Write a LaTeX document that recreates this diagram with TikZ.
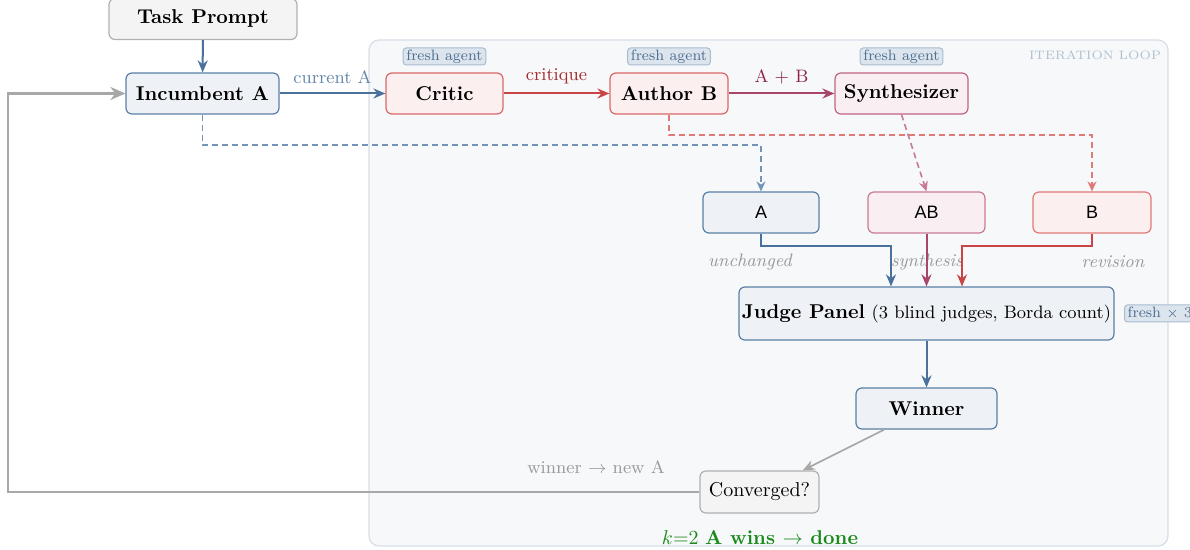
\documentclass[tikz,border=0pt]{standalone}
\usepackage{fontspec}
\newfontfamily\boxsans{Liberation Sans}
\definecolor{incstroke}{HTML}{5A7FA6}
\definecolor{incfill}{HTML}{EEF2F6}
\definecolor{flowblue}{HTML}{4A719C}
\definecolor{dashblue}{HTML}{7393B8}
\definecolor{critstroke}{HTML}{DA6868}
\definecolor{critfill}{HTML}{FBEFEF}
\definecolor{flowred}{HTML}{C94444}
\definecolor{dashred}{HTML}{E07A78}
\definecolor{labelred}{HTML}{A62A2A}
\definecolor{synthstroke}{HTML}{BF6483}
\definecolor{synthfill}{HTML}{F9EEF2}
\definecolor{flowcrimson}{HTML}{A8456A}
\definecolor{dashcrimson}{HTML}{C97A95}
\definecolor{labelcrimson}{HTML}{8E2249}
\definecolor{neutralstroke}{HTML}{B0B0B0}
\definecolor{neutralfill}{HTML}{F4F4F4}
\definecolor{neutralline}{HTML}{A8A8A8}
\definecolor{neutraltext}{HTML}{999999}
\definecolor{tagstroke}{HTML}{A8BCD0}
\definecolor{tagfill}{HTML}{DCE5EE}
\definecolor{tagtext}{HTML}{4F6F90}
\definecolor{loopstroke}{HTML}{D6DEE8}
\definecolor{loopfill}{HTML}{F7F8FA}
\definecolor{looptext}{HTML}{B0BFCF}
\definecolor{donegreen}{HTML}{1A8A1A}
\usetikzlibrary{arrows.meta, positioning, calc}

\begin{document}
\begin{tikzpicture}[x=0.5pt, y=-0.5pt,
  box/.style={draw, rounded corners=3pt, line width=0.6pt, align=center,
    inner sep=0pt, minimum height=20.5pt},
  bluebox/.style={box, draw=incstroke, fill=incfill},
  redbox/.style={box, draw=critstroke, fill=critfill},
  crimsonbox/.style={box, draw=synthstroke, fill=synthfill},
  graybox/.style={box, draw=neutralstroke, fill=neutralfill},
  tag/.style={draw=tagstroke, fill=tagfill, text=tagtext, rounded corners=1.5pt,
    line width=0.5pt, font=\fontsize{7.5}{9}\selectfont, inner xsep=1.6pt,
    inner ysep=0pt, minimum height=8.5pt},
  flow/.style={line width=1pt, -{Stealth[length=6pt, width=5pt]}},
  dashflow/.style={line width=0.8pt, dash pattern=on 3pt off 2pt,
    -{Stealth[length=5pt, width=4.5pt]}},
  note/.style={font=\small\itshape, text=neutraltext}
]
  \useasboundingbox (0,0) rectangle (1190,550);
  \draw[draw=loopstroke, fill=loopfill, line width=0.6pt, rounded corners=5pt]
    (369,40) rectangle (1168,546);
  \node[font=\fontsize{6.1}{7}\selectfont, text=looptext] (looplabel) at (1095,55) {ITERATION LOOP};

  \node[graybox, minimum width=94pt, font=\bfseries] (prompt) at (203,19) {Task Prompt};
  \node[bluebox, minimum width=76.5pt, font=\bfseries] (inc) at (202.5,93.5) {Incumbent A};
  \node[redbox, minimum width=58.5pt, font=\bfseries] (critic) at (444.5,93.5) {Critic};
  \node[redbox, minimum width=59pt, font=\bfseries] (authb) at (669,93.5) {Author B};
  \node[crimsonbox, minimum width=66.5pt, font=\bfseries] (synth) at (901.5,93.5) {Synthesizer};

  \node[tag] (tagcritic) at (444.5,56.5) {fresh agent};
  \node[tag] (tagauthb) at (669,56.5) {fresh agent};
  \node[tag] (tagsynth) at (901.5,56.5) {fresh agent};

  \node[bluebox, minimum width=58pt, font=\boxsans\small] (candA) at (761,212.5) {A};
  \node[box, draw=dashcrimson, fill=synthfill, minimum width=58.5pt, font=\boxsans\small] (candAB) at (926.5,212.5) {AB};
  \node[box, draw=dashred, fill=critfill, minimum width=59pt, font=\boxsans\small] (candB) at (1092,212.5) {B};

  \node[note] (unchanged) at (750,262) {unchanged};
  \node[note] (synthesis) at (927,262) {synthesis};
  \node[note] (revision) at (1113,262) {revision};

  \node[bluebox, minimum width=187.5pt, minimum height=26.5pt] (judge) at (926.5,313.5)
    {\textbf{Judge Panel} {\small (3 blind judges, Borda count)}};
  \node[tag, anchor=west] (tagjudge) at (1124,313.5) {fresh $\times$ 3};
  \node[bluebox, minimum width=70.5pt, font=\bfseries] (winner) at (926.5,408.5) {Winner};
  \node[graybox, minimum width=59.5pt, minimum height=21pt] (conv) at (759.5,492) {Converged?};

  \node[font=\small, text=neutraltext] (newA) at (596,467) {winner $\rightarrow$ new A};
  \node[text=donegreen] (done) at (760,538) {$k{=}2$ \textbf{A wins $\rightarrow$ done}};

  \draw[flow, flowblue] (prompt) -- (inc);
  \draw[flow, flowblue] (inc) -- node[above=1pt, font=\small, text=flowblue!85] {current A} (critic);
  \draw[flow, flowred] (critic) -- node[above=1pt, font=\small, text=labelred] {critique} (authb);
  \draw[flow, flowcrimson] (authb) -- node[above=1pt, font=\small, text=labelcrimson] {A + B} (synth);

  \draw[dashflow, dashblue] (inc.south) -- (inc.south |- 0,145) -| (candA.north);
  \draw[dashflow, dashred] (authb.south) -- (authb.south |- 0,135) -| (candB.north);
  \draw[dashflow, dashcrimson] (synth.south) -- (candAB.north);

  \draw[flow, flowblue] (candA.south) -- (candA.south |- 0,246) -| ($(judge.north)+(-35.5,0)$);
  \draw[flow, flowcrimson] (candAB.south) -- (judge.north);
  \draw[flow, flowred] (candB.south) -- (candB.south |- 0,246) -| ($(judge.north)+(35.5,0)$);

  \draw[flow, flowblue] (judge) -- (winner);
  \draw[line width=0.8pt, neutralline, -{Stealth[length=6pt, width=5pt]}] (winner) -- (conv);
  \draw[line width=1.3pt, neutralline, -{Stealth[length=7.5pt, width=6.5pt]}]
    (conv.west) -- (conv.west -| 8,0) |- (inc.west);
\end{tikzpicture}
\end{document}
